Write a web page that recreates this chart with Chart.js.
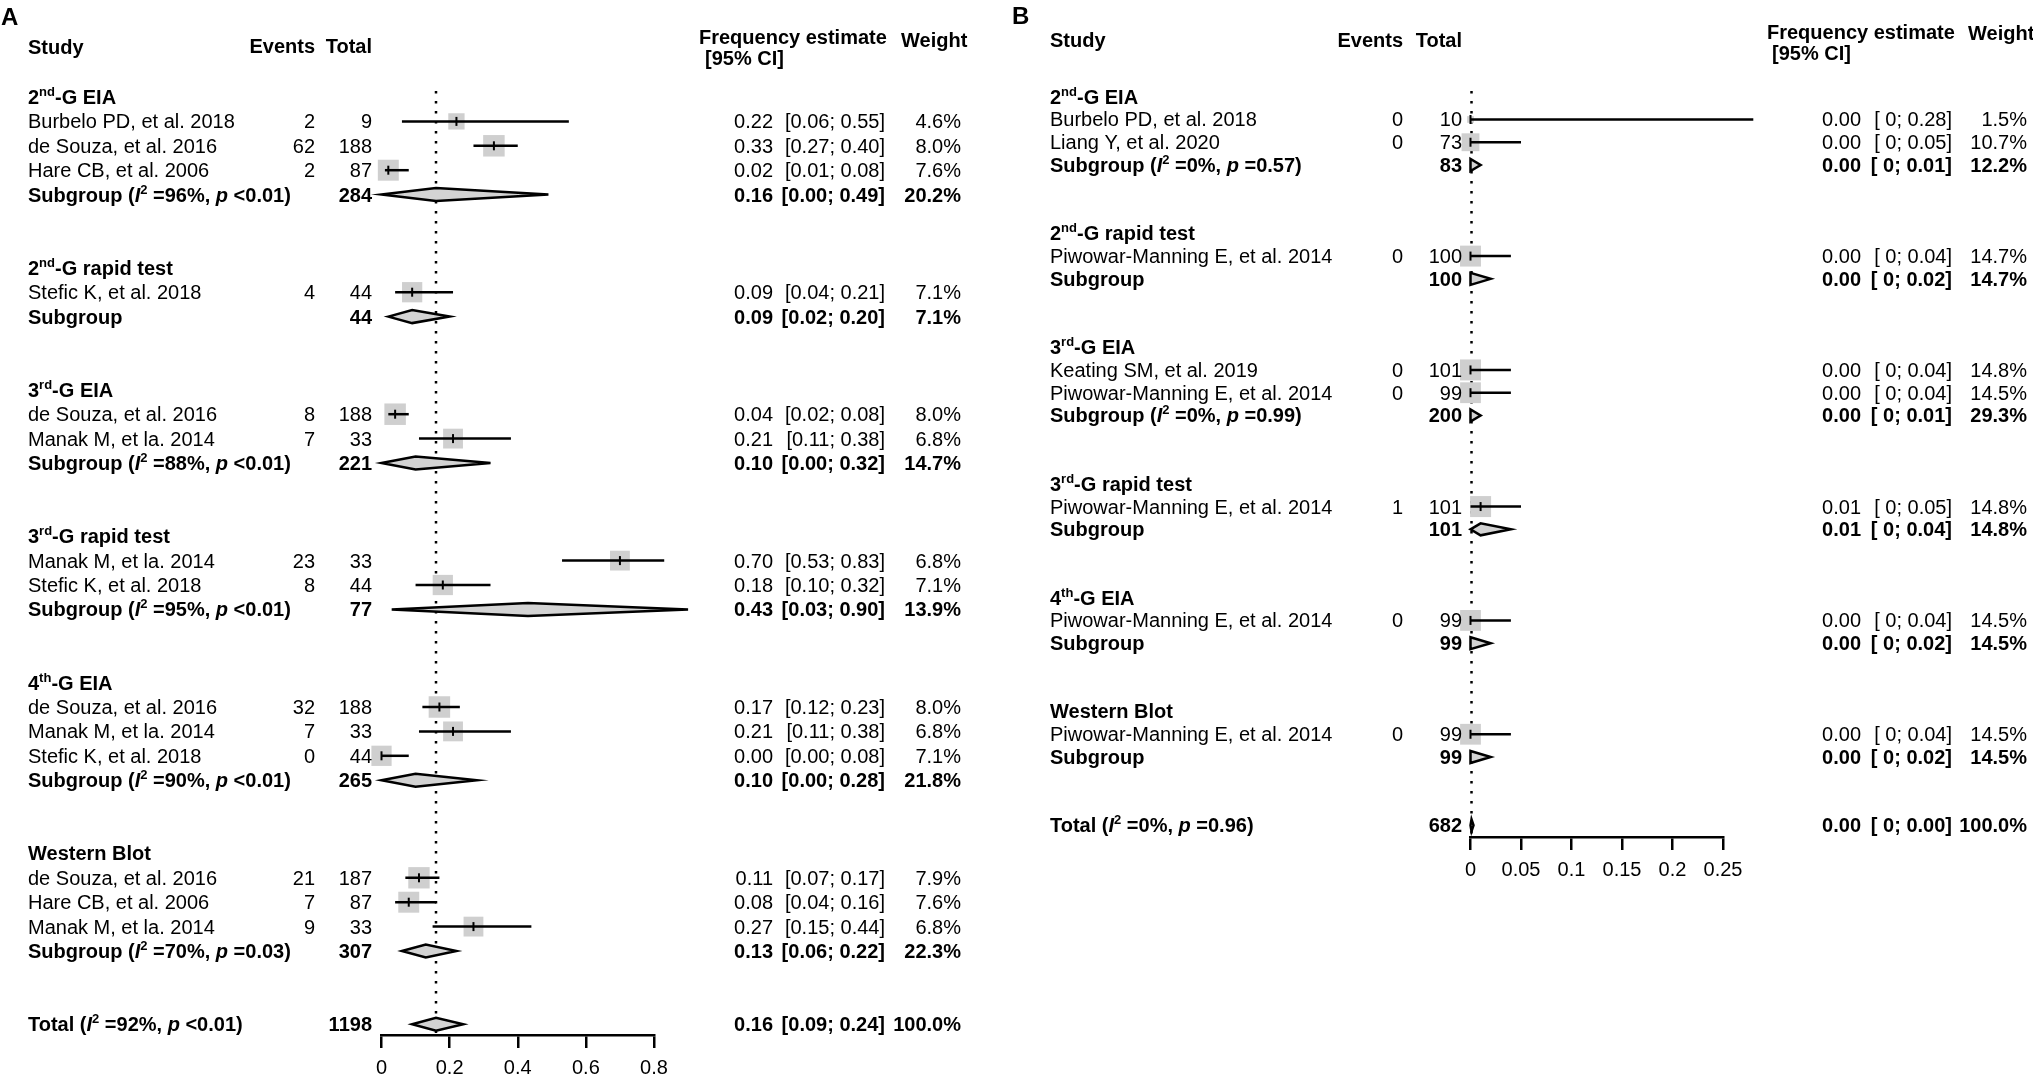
<!DOCTYPE html>
<html>
<head>
<meta charset="utf-8">
<script src="https://cdn.jsdelivr.net/npm/chart.js@4.4.1/dist/chart.umd.min.js"></script>
<style>
  html, body { margin: 0; padding: 0; background: #fff; overflow: hidden; width: 2033px; height: 1077px; }
  canvas { position: absolute; top: 0; }
  #chartA { left: 0; }
  #chartB { left: 1000px; }
</style>
</head>
<body>
<canvas id="chartA" width="1000" height="1077"></canvas>
<canvas id="chartB" width="1033" height="1077"></canvas>
<script>
// ================= panel A data =================
const groupsA = ['2^{nd}-G EIA', '2^{nd}-G rapid test', '3^{rd}-G EIA', '3^{rd}-G rapid test', '4^{th}-G EIA', 'Western Blot'];
const studiesA = ['Burbelo PD, et al. 2018', 'de Souza, et al. 2016', 'Hare CB, et al. 2006',
  'Stefic K, et al. 2018',
  'de Souza, et al. 2016', 'Manak M, et la. 2014',
  'Manak M, et la. 2014', 'Stefic K, et al. 2018',
  'de Souza, et al. 2016', 'Manak M, et la. 2014', 'Stefic K, et al. 2018',
  'de Souza, et al. 2016', 'Hare CB, et al. 2006', 'Manak M, et la. 2014'];
const studyGroupA = [0, 0, 0, 1, 2, 2, 3, 3, 4, 4, 4, 5, 5, 5];
const eventsA = [2, 62, 2, 4, 8, 7, 23, 8, 32, 7, 0, 21, 7, 9];
const totalsA = [9, 188, 87, 44, 188, 33, 33, 44, 188, 33, 44, 187, 87, 33];
const estA  = [0.22, 0.33, 0.02, 0.09, 0.04, 0.21, 0.70, 0.18, 0.17, 0.21, 0.00, 0.11, 0.08, 0.27];
const lowA  = [0.06, 0.27, 0.01, 0.04, 0.02, 0.11, 0.53, 0.10, 0.12, 0.11, 0.00, 0.07, 0.04, 0.15];
const highA = [0.55, 0.40, 0.08, 0.21, 0.08, 0.38, 0.83, 0.32, 0.23, 0.38, 0.08, 0.17, 0.16, 0.44];
const weightA = [4.6, 8.0, 7.6, 7.1, 8.0, 6.8, 6.8, 7.1, 8.0, 6.8, 7.1, 7.9, 7.6, 6.8];
const subTotalA = [284, 44, 221, 77, 265, 307];
const subEstA  = [0.16, 0.09, 0.10, 0.43, 0.10, 0.13];
const subLowA  = [0.00, 0.02, 0.00, 0.03, 0.00, 0.06];
const subHighA = [0.49, 0.20, 0.32, 0.90, 0.28, 0.22];
const subWeightA = [20.2, 7.1, 14.7, 13.9, 21.8, 22.3];
const subI2A = ['96%', '', '88%', '95%', '90%', '70%'];
const subPA  = ['<0.01', '', '<0.01', '<0.01', '<0.01', '=0.03'];
const overallA = [1198, 0.16, 0.09, 0.24, 100.0];   // N, estimate, low, high, weight
const overallHetA = ['92%', '<0.01'];
const xTicksA = [0, 0.2, 0.4, 0.6, 0.8];
const xTickLabelsA = ['0', '0.2', '0.4', '0.6', '0.8'];

// ================= panel B data =================
const groupsB = groupsA;
const studiesB = ['Burbelo PD, et al. 2018', 'Liang Y, et al. 2020',
  'Piwowar-Manning E, et al. 2014',
  'Keating SM, et al. 2019', 'Piwowar-Manning E, et al. 2014',
  'Piwowar-Manning E, et al. 2014',
  'Piwowar-Manning E, et al. 2014',
  'Piwowar-Manning E, et al. 2014'];
const studyGroupB = [0, 0, 1, 2, 2, 3, 4, 5];
const eventsB = [0, 0, 0, 0, 0, 1, 0, 0];
const totalsB = [10, 73, 100, 101, 99, 101, 99, 99];
const estB  = [0, 0, 0, 0, 0, 0.01, 0, 0];
const lowB  = [0, 0, 0, 0, 0, 0, 0, 0];
const highB = [0.28, 0.05, 0.04, 0.04, 0.04, 0.05, 0.04, 0.04];
const weightB = [1.5, 10.7, 14.7, 14.8, 14.5, 14.8, 14.5, 14.5];
const subTotalB = [83, 100, 200, 101, 99, 99];
const subEstB  = [0, 0, 0, 0.01, 0, 0];
const subLowB  = [0, 0, 0, 0, 0, 0];
const subHighB = [0.01, 0.02, 0.01, 0.04, 0.02, 0.02];
const subWeightB = [12.2, 14.7, 29.3, 14.8, 14.5, 14.5];
const subI2B = ['0%', '', '0%', '', '', ''];
const subPB  = ['=0.57', '', '=0.99', '', '', ''];
const overallB = [682, 0.001, 0, 0.003, 100.0];
const overallHetB = ['0%', '=0.96'];
const xTicksB = [0, 0.05, 0.1, 0.15, 0.2, 0.25];
const xTickLabelsB = ['0', '0.05', '0.1', '0.15', '0.2', '0.25'];

// ================= drawing =================
const FONT = 'Arial, "Liberation Sans", Helvetica, sans-serif';
const FS = 20;
const fnt = (size, bold, italic) => (italic ? 'italic ' : '') + (bold ? 'bold ' : '') + size + 'px ' + FONT;

// tiny markup: ^{..} superscript, *{..} italic
function rich(ctx, str, x, y, bold, align, size) {
  size = size || FS;
  const parts = [];
  const re = /\^\{([^}]*)\}|\*\{([^}]*)\}|([^^*]+)/g;
  let m;
  while ((m = re.exec(str))) {
    if (m[1] !== undefined) parts.push({ t: m[1], sup: true });
    else if (m[2] !== undefined) parts.push({ t: m[2], it: true });
    else parts.push({ t: m[3] });
  }
  const f = p => p.sup ? fnt(Math.round(size * 0.65), bold, false) : fnt(size, bold, p.it);
  let w = 0;
  parts.forEach(p => { ctx.font = f(p); p.w = ctx.measureText(p.t).width; w += p.w; });
  let cx = align === 'right' ? x - w : x;
  ctx.textAlign = 'left';
  ctx.textBaseline = 'alphabetic';
  parts.forEach(p => {
    ctx.font = f(p);
    ctx.fillText(p.t, cx, p.sup ? y - size * 0.4 : y);
    cx += p.w;
  });
}

function buildRows(studyGroup, nGroups) {
  const studyRow = [], headRow = [], subRow = [];
  let r = 0;
  for (let g = 0; g < nGroups; g++) {
    headRow.push(r); r++;
    studyGroup.forEach((gi, i) => { if (gi === g) { studyRow[i] = r; r++; } });
    subRow.push(r);
    r += 3;
  }
  return { studyRow, headRow, subRow, totalRow: r };
}

function makeForest(id, d, L) {
  const rows = buildRows(d.studyGroup, d.groups.length);
  const canvas = document.getElementById(id);
  const W = canvas.width, H = canvas.height;
  const AXH = 42;
  const yMax = (L.axisY - L.rowY0) / L.rowH;
  const top = L.rowY0 + L.minRow * L.rowH;
  const maxW = Math.max(...d.weight);
  const side = w => L.maxSide * Math.sqrt(w / maxW);
  const lowTxt = v => (L.bareZero && v === 0) ? ' 0' : v.toFixed(2);
  const ciTxt = (lo, hi) => '[' + lowTxt(lo) + '; ' + hi.toFixed(2) + ']';
  const hetTxt = (name, i2, p) => i2 ? name + ' (*{I}^{2} =' + i2 + ', *{p} ' + p + ')' : name;

  const diamond = (ctx, x, y, r, lo, est, hi) => {
    const py = y.getPixelForValue(r);
    ctx.beginPath();
    ctx.moveTo(x.getPixelForValue(lo), py);
    ctx.lineTo(x.getPixelForValue(est), py - L.dh);
    ctx.lineTo(x.getPixelForValue(hi), py);
    ctx.lineTo(x.getPixelForValue(est), py + L.dh);
    ctx.closePath();
    ctx.fillStyle = '#d3d3d3';
    ctx.fill();
    ctx.lineWidth = 2.5;
    ctx.strokeStyle = '#000';
    ctx.stroke();
    ctx.fillStyle = '#000';
  };

  const forest = {
    id: 'forest',
    beforeDatasetsDraw(chart) {
      const { ctx, chartArea, scales: { x, y } } = chart;
      const px = x.getPixelForValue(d.overall[1]);
      ctx.save();
      ctx.strokeStyle = '#000';
      ctx.lineWidth = 2.5;
      ctx.setLineDash([2.5, 7.5]);
      ctx.beginPath();
      ctx.moveTo(px, y.getPixelForValue(-0.25));
      ctx.lineTo(px, chartArea.bottom - 2);
      ctx.stroke();
      ctx.restore();
    },
    afterDatasetsDraw(chart) {
      const { ctx, scales: { x, y } } = chart;
      const base = r => y.getPixelForValue(r) + 7;
      ctx.save();
      ctx.fillStyle = '#000';
      ctx.strokeStyle = '#000';

      // panel letter + column headers
      rich(ctx, L.letter, L.letterX, L.letterY, true, 'left', 24);
      rich(ctx, 'Study', L.studyX, L.hStudyY + 7, true, 'left');
      rich(ctx, 'Events', L.eventsX, L.hEvY + 7, true, 'right');
      rich(ctx, 'Total', L.totalX, L.hEvY + 7, true, 'right');
      rich(ctx, 'Frequency estimate', L.hFeX, L.hFeY + 7, true, 'left');
      rich(ctx, '[95% CI]', L.hCiX, L.hCiY + 7, true, 'left');
      rich(ctx, 'Weight', L.hWX, L.hWY + 7, true, 'left');

      // group headers
      d.groups.forEach((g, gi) => rich(ctx, g, L.studyX, base(rows.headRow[gi]), true, 'left'));

      // studies
      d.studies.forEach((s, i) => {
        const r = rows.studyRow[i], b = base(r), py = y.getPixelForValue(r);
        rich(ctx, s, L.studyX, b, false, 'left');
        rich(ctx, String(d.events[i]), L.eventsX, b, false, 'right');
        rich(ctx, String(d.totals[i]), L.totalX, b, false, 'right');
        rich(ctx, d.est[i].toFixed(2), L.estX, b, false, 'right');
        rich(ctx, ciTxt(d.low[i], d.high[i]), L.ciX, b, false, 'right');
        rich(ctx, d.weight[i].toFixed(1) + '%', L.wX, b, false, 'right');
        ctx.lineWidth = 2.5;
        ctx.beginPath();
        ctx.moveTo(x.getPixelForValue(d.low[i]), py);
        ctx.lineTo(x.getPixelForValue(d.high[i]), py);
        ctx.stroke();
        const ex = x.getPixelForValue(d.est[i]);
        ctx.lineWidth = 2;
        ctx.beginPath();
        ctx.moveTo(ex, py - 4.5);
        ctx.lineTo(ex, py + 4.5);
        ctx.stroke();
      });

      // subgroups
      d.groups.forEach((g, gi) => {
        const r = rows.subRow[gi], b = base(r);
        rich(ctx, hetTxt('Subgroup', d.subI2[gi], d.subP[gi]), L.studyX, b, true, 'left');
        rich(ctx, String(d.subTotal[gi]), L.totalX, b, true, 'right');
        rich(ctx, d.subEst[gi].toFixed(2), L.estX, b, true, 'right');
        rich(ctx, ciTxt(d.subLow[gi], d.subHigh[gi]), L.ciX, b, true, 'right');
        rich(ctx, d.subWeight[gi].toFixed(1) + '%', L.wX, b, true, 'right');
        diamond(ctx, x, y, r, d.subLow[gi], d.subEst[gi], d.subHigh[gi]);
      });

      // overall
      const r = rows.totalRow, b = base(r), o = d.overall;
      rich(ctx, hetTxt('Total', d.overallHet[0], d.overallHet[1]), L.studyX, b, true, 'left');
      rich(ctx, String(o[0]), L.totalX, b, true, 'right');
      rich(ctx, o[1].toFixed(2), L.estX, b, true, 'right');
      rich(ctx, ciTxt(o[2], o[3]), L.ciX, b, true, 'right');
      rich(ctx, o[4].toFixed(1) + '%', L.wX, b, true, 'right');
      diamond(ctx, x, y, r, o[2], o[1], o[3]);
      ctx.restore();
    }
  };

  return new Chart(canvas, {
    type: 'scatter',
    data: {
      datasets: [{
        data: d.est.map((v, i) => ({ x: v, y: rows.studyRow[i] })),
        pointStyle: 'rect',
        pointRadius: d.weight.map(w => side(w) / Math.SQRT2),
        backgroundColor: '#cfcfcf',
        borderWidth: 0,
        clip: false
      }]
    },
    options: {
      responsive: false,
      animation: false,
      events: [],
      layout: { padding: { left: L.x0px, right: W - L.x1px, top: top, bottom: H - L.axisY - AXH } },
      plugins: { legend: { display: false }, tooltip: { enabled: false } },
      scales: {
        x: {
          type: 'linear',
          min: d.xTicks[0],
          max: d.xTicks[d.xTicks.length - 1],
          afterFit: s => { s.height = AXH; },
          afterBuildTicks: s => { s.ticks = d.xTicks.map(v => ({ value: v })); },
          ticks: {
            callback: (v, i) => d.xTickLabels[i],
            color: '#000',
            font: { family: FONT, size: FS },
            padding: 8,
            maxRotation: 0,
            autoSkip: false
          },
          grid: { drawOnChartArea: false, drawTicks: true, tickLength: 13, color: '#000', lineWidth: 2.5 },
          border: { display: true, color: '#000', width: 2.5 }
        },
        y: { type: 'linear', display: false, reverse: true, min: L.minRow, max: yMax }
      }
    },
    plugins: [forest]
  });
}

makeForest('chartA', {
  groups: groupsA, studies: studiesA, studyGroup: studyGroupA, events: eventsA, totals: totalsA,
  est: estA, low: lowA, high: highA, weight: weightA,
  subTotal: subTotalA, subEst: subEstA, subLow: subLowA, subHigh: subHighA, subWeight: subWeightA,
  subI2: subI2A, subP: subPA, overall: overallA, overallHet: overallHetA,
  xTicks: xTicksA, xTickLabels: xTickLabelsA
}, {
  letter: 'A', letterX: 1, letterY: 25,
  x0px: 381.5, x1px: 654, rowY0: 97, rowH: 24.4, minRow: -1.5, axisY: 1035,
  studyX: 28, eventsX: 315, totalX: 372, estX: 773, ciX: 885, wX: 961,
  hStudyY: 46.5, hEvY: 45.5, hFeX: 699, hFeY: 36.7, hCiX: 705, hCiY: 58, hWX: 901, hWY: 40,
  maxSide: 21.5, dh: 6.5, bareZero: false
});

makeForest('chartB', {
  groups: groupsB, studies: studiesB, studyGroup: studyGroupB, events: eventsB, totals: totalsB,
  est: estB, low: lowB, high: highB, weight: weightB,
  subTotal: subTotalB, subEst: subEstB, subLow: subLowB, subHigh: subHighB, subWeight: subWeightB,
  subI2: subI2B, subP: subPB, overall: overallB, overallHet: overallHetB,
  xTicks: xTicksB, xTickLabels: xTickLabelsB
}, {
  letter: 'B', letterX: 12, letterY: 24,
  x0px: 470.5, x1px: 723, rowY0: 96.7, rowH: 22.77, minRow: -1.5, axisY: 837,
  studyX: 50, eventsX: 403, totalX: 462, estX: 861, ciX: 952, wX: 1027,
  hStudyY: 40, hEvY: 40, hFeX: 767, hFeY: 31.7, hCiX: 772, hCiY: 53.3, hWX: 968, hWY: 33.3,
  maxSide: 21, dh: 6, bareZero: true
});
</script>
</body>
</html>
